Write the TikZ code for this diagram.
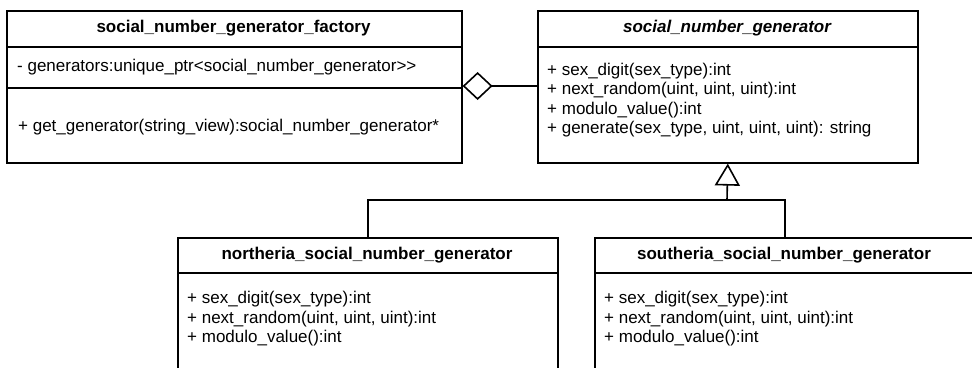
\documentclass[tikz,border=0pt]{standalone}
\usepackage{fontspec}
\setmainfont{Liberation Sans}
\usetikzlibrary{arrows.meta}

\tikzset{
  cls/.style={draw, line width=1.6pt, rectangle, inner sep=0pt, anchor=north west},
  title/.style={font=\fontsize{17}{20}\selectfont\bfseries, inner sep=0pt},
  members/.style={font=\fontsize{17}{19.5}\selectfont, inner sep=0pt, anchor=west, align=left},
  rule/.style={line width=1.6pt},
  link/.style={line width=1.6pt},
  aggr/.style={link, -{Diamond[open, length=30pt, width=28pt, line width=1.6pt]}},
  inherit/.style={link, -{Triangle[open, length=22pt, width=25pt, line width=1.6pt]}},
}

\begin{document}
\begin{tikzpicture}[x=1pt, y=-1pt]
\path[use as bounding box, clip] (0,0) rectangle (972,367);
\fill[white] (0,0) rectangle (972,367);

% factory class
\node[cls, minimum width=455pt, minimum height=152pt] (factory) at (6,10) {};
\draw[rule] (factory.west |- 0,47) -- (factory.east |- 0,47);
\draw[rule] (factory.west |- 0,88) -- (factory.east |- 0,88);
\node[title] (factoryname) at (233.5,28.5) {social\_number\_generator\_factory};
\node[members] (factoryattr) at (17,67) {- generators:unique\_ptr<social\_number\_generator>{}>};
\node[members] (factoryops) at (18,127) {+ get\_generator(string\_view):social\_number\_generator*};

% abstract generator
\node[cls, minimum width=380pt, minimum height=152pt] (sng) at (537,10) {};
\draw[rule] (sng.west |- 0,47) -- (sng.east |- 0,47);
\node[title, font=\fontsize{17}{20}\selectfont\bfseries\itshape] (sngname) at (727,28.5) {social\_number\_generator};
\node[members] (sngops) at (547,100) {+ sex\_digit(sex\_type):int\\
+ next\_random(uint, uint, uint):int\\
+ modulo\_value():int\\
+ generate(sex\_type, uint, uint, uint): string};

% northeria
\node[cls, minimum width=380pt, minimum height=200pt] (north) at (177,237) {};
\draw[rule] (north.west |- 0,273) -- (north.east |- 0,273);
\node[title] (northname) at (367,255) {northeria\_social\_number\_generator};
\node[members] (northops) at (187,319) {+ sex\_digit(sex\_type):int\\
+ next\_random(uint, uint, uint):int\\
+ modulo\_value():int};

% southeria
\node[cls, minimum width=380pt, minimum height=200pt] (south) at (594,237) {};
\draw[rule] (south.west |- 0,273) -- (south.east |- 0,273);
\node[title] (southname) at (784,255) {southeria\_social\_number\_generator};
\node[members] (southops) at (604,319) {+ sex\_digit(sex\_type):int\\
+ next\_random(uint, uint, uint):int\\
+ modulo\_value():int};

% aggregation
\draw[aggr] (sng.west |- 0,86) -- (factory.east |- 0,86);

% generalisation
\coordinate (join) at (727,200);
\draw[link] (north.north) |- (join) -| (south.north);
\draw[inherit] (join) -- (sng.south);
\end{tikzpicture}
\end{document}
